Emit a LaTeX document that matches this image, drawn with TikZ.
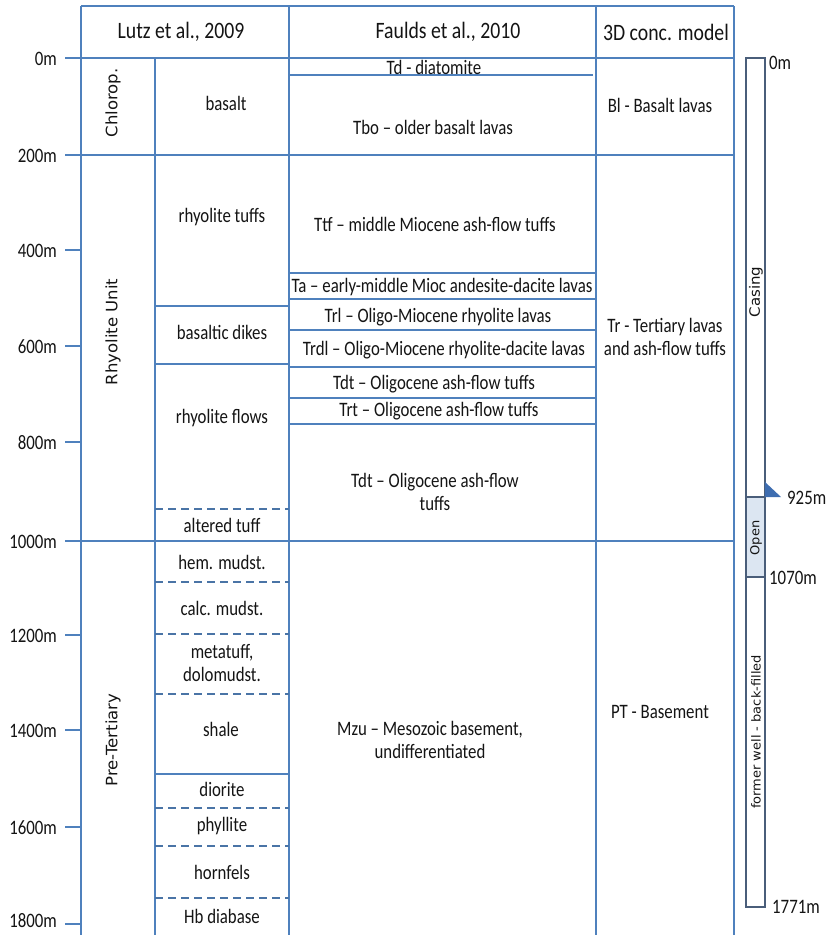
\documentclass[tikz,border=0pt]{standalone}
\usepackage{fontspec}
\usepackage{graphicx}
\setmainfont{Carlito}
\newfontfamily\bodyf{Carlito}[FakeStretch=0.82]
\newfontfamily\hdrf{Carlito}[FakeStretch=0.84]
\newfontfamily\rotf{DejaVu Sans}
\definecolor{gridblue}{HTML}{4F81BD}
\definecolor{dashblue}{HTML}{4A74A6}
\definecolor{wellc}{HTML}{4A5E7A}
\definecolor{openfill}{HTML}{DCE6F2}
\definecolor{txt}{HTML}{141414}
\definecolor{shoe}{HTML}{3E6DB0}
\newcommand\rotl[2]{\scalebox{1}[0.95]{\rotf\fontsize{#1}{#1}\selectfont #2}}
\tikzset{
  gridln/.style={gridblue, line width=1.5pt},
  dashln/.style={dashblue, line width=1.5pt, dash pattern=on 8pt off 5pt},
  wellln/.style={wellc, line width=1.5pt},
  hdr/.style={text=txt, font=\hdrf\fontsize{23.5}{27}\selectfont, inner sep=0pt},
  lbl/.style={text=txt, font=\bodyf\fontsize{20.5}{23.5}\selectfont, align=center, inner sep=0pt},
  axl/.style={lbl, anchor=east},
  wlbl/.style={lbl, anchor=west},
  rotlbl/.style={text=txt, rotate=90, inner sep=0pt},
}
\begin{document}
\begin{tikzpicture}[x=1pt,y=-1pt]
\useasboundingbox[fill=white] (0,0) rectangle (830,935);

% ---- grid ----
\draw[gridln] (81,6) -- (734,6);
\draw[gridln] (65,58) -- (734,58);
\draw[gridln] (65,155) -- (734,155);
\draw[gridln] (65,541) -- (734,541);
\foreach \yy in {250,346,442,635,730,827,924} \draw[gridln] (65,\yy) -- (81,\yy);
\foreach \xx in {81,289,596,734} \draw[gridln] (\xx,6) -- (\xx,935);
\draw[gridln] (155,58) -- (155,935);
% Lutz boundaries
\foreach \yy in {306,364,774} \draw[gridln] (155,\yy) -- (289,\yy);
\foreach \yy in {509,582,634,694,808,846,898} \draw[dashln] (155,\yy) -- (289,\yy);
% Faulds boundaries
\draw[gridln] (289,75) -- (593,75);
\foreach \yy in {273,299,330,367,398,424} \draw[gridln] (289,\yy) -- (596,\yy);

% ---- headers ----
\node[hdr] (h1) at (181,32) {Lutz et al., 2009};
\node[hdr] (h2) at (448,32) {Faulds et al., 2010};
\node[hdr] (h3) at (666,32) {3D conc. model};

% ---- depth axis ----
\node[axl] (d0) at (57,59) {0m};
\node[axl] (d200) at (57,156) {200m};
\node[axl] (d400) at (57,251) {400m};
\node[axl] (d600) at (57,347) {600m};
\node[axl] (d800) at (57,443) {800m};
\node[axl] (d1000) at (57,542) {1000m};
\node[axl] (d1200) at (57,636) {1200m};
\node[axl] (d1400) at (57,731) {1400m};
\node[axl] (d1600) at (57,828) {1600m};
\node[axl] (d1800) at (57,921) {1800m};

% ---- units ----
\node[rotlbl] (u1) at (113,103) {\rotl{16.5}{Chlorop.}};
\node[rotlbl] (u2) at (113,332) {\rotl{16.5}{Rhyolite Unit}};
\node[rotlbl] (u3) at (113,740) {\rotl{16.5}{Pre-Tertiary}};

% ---- Lutz lithologies ----
\node[lbl] (l1) at (226,103) {basalt};
\node[lbl] (l2) at (222,217) {rhyolite tuffs};
\node[lbl] (l3) at (222,332) {basaltic dikes};
\node[lbl] (l4) at (222,418) {rhyolite flows};
\node[lbl] (l5) at (222,525) {altered tuff};
\node[lbl] (l6) at (222,562) {hem. mudst.};
\node[lbl] (l7) at (222,608) {calc. mudst.};
\node[lbl] (l8) at (222,663) {metatuff,\\dolomudst.};
\node[lbl] (l9) at (221,729) {shale};
\node[lbl] (l10) at (222,789) {diorite};
\node[lbl] (l11) at (222,826) {phyllite};
\node[lbl] (l12) at (222,872) {hornfels};
\node[lbl] (l13) at (222,916) {Hb diabase};

% ---- Faulds units ----
\node[lbl] (f1) at (434,67) {Td - diatomite};
\node[lbl] (f2) at (433,127) {Tbo – older basalt lavas};
\node[lbl] (f3) at (435,224) {Ttf – middle Miocene ash-flow tuffs};
\node[lbl] (f4) at (442,287) {Ta – early-middle Mioc andesite-dacite lavas};
\node[lbl] (f5) at (438,317) {Trl – Oligo-Miocene rhyolite lavas};
\node[lbl] (f6) at (444,350) {Trdl – Oligo-Miocene rhyolite-dacite lavas};
\node[lbl] (f7) at (434,384) {Tdt – Oligocene ash-flow tuffs};
\node[lbl] (f8) at (439,411) {Trt – Oligocene ash-flow tuffs};
\node[lbl] (f9) at (435,492) {Tdt – Oligocene ash-flow\\tuffs};
\node[lbl] (f10) at (430,740) {Mzu – Mesozoic basement,\\undifferentiated};

% ---- 3D model ----
\node[lbl] (m1) at (660,105) {Bl - Basalt lavas};
\node[lbl] (m2) at (665,337) {Tr - Tertiary lavas\\and ash-flow tuffs};
\node[lbl] (m3) at (660,712) {PT - Basement};

% ---- well ----
\fill[openfill] (746,497) rectangle (765,577);
\draw[wellln] (746,58) rectangle (765,907);
\draw[wellln] (746,497) -- (765,497);
\draw[wellln] (746,577) -- (765,577);
\fill[shoe] (765,482) -- (765,497) -- (781,497) -- cycle;
\node[rotlbl] (w1) at (756,292) {\rotl{15}{Casing}};
\node[rotlbl] (w2) at (756,538) {\rotl{13}{Open}};
\node[rotlbl] (w3) at (756,732) {\rotl{13}{former well - back-filled}};
\node[wlbl] (wd0) at (769,63) {0m};
\node[wlbl] (wd1) at (787,498) {925m};
\node[wlbl] (wd2) at (769,578) {1070m};
\node[wlbl] (wd3) at (772,907) {1771m};
\end{tikzpicture}
\end{document}
